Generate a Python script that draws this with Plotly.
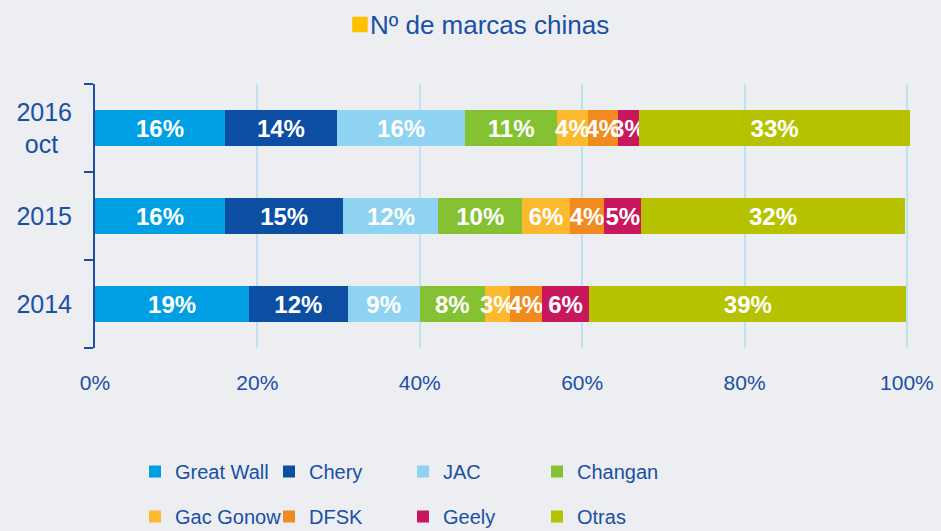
import plotly.graph_objects as go

categories = ["2014", "2015", "2016 oct"]
y_tick_labels = ["2014", "2015", "2016<br>oct\u00a0\u00a0"]
series_names = ["Great Wall", "Chery", "JAC", "Changan", "Gac Gonow", "DFSK", "Geely", "Otras"]
great_wall = [19.0, 16.0, 16.0]
chery = [12.1, 14.6, 13.8]
jac = [8.9, 11.7, 15.8]
changan = [8.0, 10.3, 11.3]
gac_gonow = [3.1, 5.9, 3.8]
dfsk = [3.9, 4.2, 3.7]
geely = [5.9, 4.6, 2.6]
otras = [39.0, 32.4, 33.4]
x_ticks = [0, 20, 40, 60, 80, 100]
x_tick_labels = ["0%", "20%", "40%", "60%", "80%", "100%"]

series_values = [great_wall, chery, jac, changan, gac_gonow, dfsk, geely, otras]
colors = ["#009FE3", "#0B4EA2", "#8ED3F2", "#84C233", "#FDB92E", "#F28B1F", "#C8175D", "#B6C200"]
legend_ids = ["legend", "legend", "legend", "legend", "legend2", "legend2", "legend2", "legend2"]

TEXT = "#1A4FA6"
FONT = "Liberation Sans, Arial, sans-serif"
BG = "#ECEEF1"

fig = go.Figure()
for name, vals, col, lg in zip(series_names, series_values, colors, legend_ids):
    fig.add_trace(go.Bar(
        y=categories, x=vals, name=name, orientation="h",
        marker=dict(color=col, line=dict(width=0)),
        texttemplate="%{x:.0f}%", textposition="inside",
        insidetextanchor="middle", constraintext="none", textangle=0,
        textfont=dict(family=FONT, size=24, color="white", weight="bold"),
        legend=lg, hoverinfo="skip",
    ))

legend_common = dict(
    orientation="h", xref="container", yref="container",
    xanchor="left", yanchor="top",
    entrywidth=89, entrywidthmode="pixels",
    font=dict(family=FONT, size=20, color=TEXT),
    bgcolor="rgba(0,0,0,0)", traceorder="normal",
)

fig.update_layout(
    barmode="stack",
    bargap=0.58,
    width=941, height=531,
    margin=dict(l=95, r=30, t=84, b=183, autoexpand=False),
    paper_bgcolor=BG, plot_bgcolor=BG,
    font=dict(family=FONT, color=TEXT),
    title=dict(
        text="<span style='color:#FFC000;font-size:32px'>■</span>Nº de marcas chinas",
        x=0.51, xanchor="center", y=1 - 25 / 531, yanchor="middle",
        font=dict(family=FONT, size=26, color=TEXT),
    ),
    xaxis=dict(
        range=[0, 100.5], tickvals=x_ticks, ticktext=x_tick_labels,
        showgrid=True, gridcolor="#BEE2F2", gridwidth=2,
        zeroline=False, showline=False, ticks="",
        tickfont=dict(family=FONT, size=21, color=TEXT),
        ticklabelstandoff=20,
        fixedrange=True,
    ),
    yaxis=dict(
        categoryorder="array", categoryarray=categories,
        tickmode="array", tickvals=categories, ticktext=y_tick_labels,
        range=[-0.5, 2.5],
        showgrid=False, zeroline=False,
        showline=True, linecolor="#1F4E9E", linewidth=2,
        ticks="outside", tickson="boundaries", ticklen=9, tickwidth=2, tickcolor="#1F4E9E",
        tickfont=dict(family=FONT, size=25, color=TEXT),
        ticklabelstandoff=16,
        fixedrange=True,
    ),
    legend=dict(legend_common, x=135 / 941, y=1 - 452 / 531),
    legend2=dict(legend_common, x=135 / 941, y=1 - 497 / 531),
    showlegend=True,
)

fig.write_html(
    "out.html",
    config={"displayModeBar": False, "staticPlot": True},
    post_script="document.body.style.margin='0';document.body.style.overflow='hidden';",
)
